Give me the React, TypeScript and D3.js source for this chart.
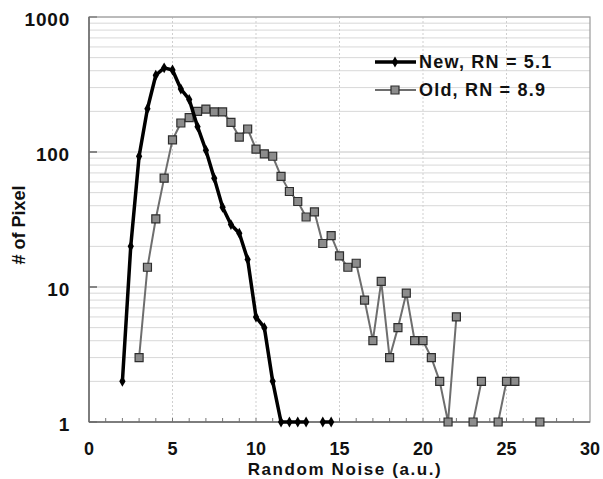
import * as d3 from 'd3'

const width = 603
const height = 479

const xValues = [2, 2.5, 3, 3.5, 4, 4.5, 5, 5.5, 6, 6.5, 7, 7.5, 8, 8.5, 9, 9.5, 10, 10.5, 11, 11.5, 12, 12.5, 13, 13.5, 14, 14.5,
  15, 15.5, 16, 16.5, 17, 17.5, 18, 18.5, 19, 19.5, 20, 20.5, 21, 21.5, 22, 22.5, 23, 23.5, 24, 24.5, 25, 25.5, 26, 26.5, 27]

// null = zero count (not shown on the log axis)
const newCounts = [2, 20, 93, 209, 370, 420, 405, 293, 245, 154, 103, 64, 39, 29, 25, 16, 6, 5, 2, 1, 1, 1, 1, null, 1, 1]

const oldStart = 3
const oldCounts = [3, 14, 32, 64, 123, 164, 180, 200, 208, 198, 198, 166, 129, 148, 105, 97, 93, 66, 51, 43, 33, 36, 21, 24,
  17, 14, 15, 8, 4, 11, 3, 5, 9, 4, 4, 3, 2, 1, 6, null, 1, 2, null, 1, 2, 2, null, null, 1]

const xTicks = [0, 5, 10, 15, 20, 25, 30]
const yTicks = [1, 10, 100, 1000]
const legendLabels = ['New, RN = 5.1', 'Old, RN = 8.9']

const font = '"Liberation Sans", Arial, sans-serif'

export default function App() {
  const x = d3.scaleLinear().domain([0, 30]).range([89, 590])
  const y = d3.scaleLog().domain([1, 1000]).range([422, 17])

  const newData = newCounts.map((v, i) => ({ x: xValues[i], v }))
  const startIdx = xValues.indexOf(oldStart)
  const oldData = oldCounts.map((v, i) => ({ x: xValues[startIdx + i], v }))

  const line = d3.line<{ x: number; v: number | null }>()
    .defined(d => d.v != null)
    .x(d => x(d.x))
    .y(d => y(d.v as number))

  const diamond = d3.symbol(d3.symbolDiamond, 34)()
  const square = d3.symbol(d3.symbolSquare, 64)()

  const minorY: number[] = []
  for (const dec of [1, 10, 100]) for (let k = 2; k <= 10; k++) minorY.push(dec * k)
  const minorX = d3.range(1, 30)

  const [x0, x1] = x.range()
  const [y0, y1] = y.range()

  return (
    <svg width={width} height={height} style={{ position: 'absolute', left: 0, top: 0, background: '#fff' }}>
      {/* horizontal gridlines */}
      {minorY.map(v => (
        <line key={'hg' + v} x1={x0} x2={x1} y1={y(v)} y2={y(v)}
          stroke={v === 100 || v === 10 ? '#c4c4c4' : '#d8d8d8'} strokeWidth={1} />
      ))}
      {/* vertical gridlines */}
      {xTicks.slice(1, -1).map(t => (
        <line key={'vg' + t} x1={x(t)} x2={x(t)} y1={y1} y2={y0} stroke="#cfcfcf" strokeDasharray="2,2" />
      ))}
      {/* minor x ticks */}
      {minorX.map(t => (
        <line key={'mx' + t} x1={x(t)} x2={x(t)} y1={y0} y2={y0 - 4} stroke="#777" />
      ))}
      {/* major y ticks */}
      {yTicks.map(t => (
        <line key={'my' + t} x1={x0} x2={x0 + 8} y1={y(t)} y2={y(t)} stroke="#666" strokeWidth={1.5} />
      ))}
      {/* frame */}
      <rect x={x0} y={y1} width={x1 - x0} height={y0 - y1} fill="none" stroke="#9a9a9a" strokeWidth={1.2} />
      <line x1={x0} x2={x0} y1={y1} y2={y0} stroke="#666" strokeWidth={1.5} />
      <line x1={x0} x2={x1} y1={y0} y2={y0} stroke="#666" strokeWidth={1.5} />

      {/* old series */}
      <path d={line(oldData) || ''} fill="none" stroke="#6e6e6e" strokeWidth={2} />
      {oldData.filter(d => d.v != null).map(d => (
        <path key={'o' + d.x} d={square || ''} transform={`translate(${x(d.x)},${y(d.v as number)})`}
          fill="#8c8c8c" stroke="#2e2e2e" strokeWidth={1.2} />
      ))}

      {/* new series */}
      <path d={line(newData) || ''} fill="none" stroke="#000" strokeWidth={3.5} strokeLinejoin="round" />
      {newData.filter(d => d.v != null).map(d => (
        <path key={'n' + d.x} d={diamond || ''} transform={`translate(${x(d.x)},${y(d.v as number)})`} fill="#000" />
      ))}

      {/* y tick labels */}
      {yTicks.map(t => (
        <text key={'yl' + t} x={70} y={y(t) + 2} dy="0.35em" textAnchor="end" fontFamily={font} fontWeight="bold"
          fontSize={19} letterSpacing={0.8} fill="#111">{t}</text>
      ))}
      {/* x tick labels */}
      {xTicks.map(t => (
        <text key={'xl' + t} x={x(t)} y={449} dy="0.35em" textAnchor="middle" fontFamily={font} fontWeight="bold"
          fontSize={18} fill="#111">{t}</text>
      ))}

      <text x={345} y={469} dy="0.35em" textAnchor="middle" fontFamily={font} fontWeight="bold" fontSize={17}
        letterSpacing={1.6} fill="#111">Random Noise (a.u.)</text>
      <text transform="translate(19,225) rotate(-90)" dy="0.35em" textAnchor="middle" fontFamily={font}
        fontWeight="bold" fontSize={18} fill="#111">{'# of Pixel'}</text>

      {/* legend */}
      <g>
        <line x1={375} x2={416} y1={62} y2={62} stroke="#000" strokeWidth={3.5} />
        <path d={diamond || ''} transform="translate(395,62)" fill="#000" />
        <text x={419} y={62} dy="0.35em" fontFamily={font} fontWeight="bold" fontSize={18} letterSpacing={1.2}
          fill="#111">{legendLabels[0]}</text>
        <line x1={375} x2={416} y1={90} y2={90} stroke="#6e6e6e" strokeWidth={2} />
        <path d={square || ''} transform="translate(395,90)" fill="#8c8c8c" stroke="#2e2e2e" strokeWidth={1.2} />
        <text x={419} y={90} dy="0.35em" fontFamily={font} fontWeight="bold" fontSize={18} letterSpacing={1.2}
          fill="#111">{legendLabels[1]}</text>
      </g>
    </svg>
  )
}
